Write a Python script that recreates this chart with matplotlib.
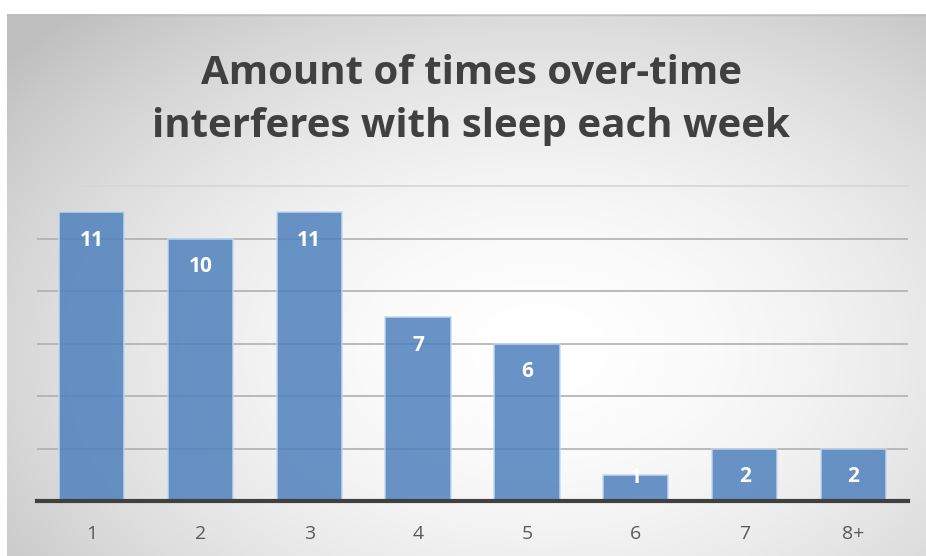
import numpy as np
import matplotlib.pyplot as plt

categories = ['1', '2', '3', '4', '5', '6', '7', '8+']
counts = [11, 10, 11, 7, 6, 1, 2, 2]
title = 'Amount of times over-time\ninterferes with sleep each week'

W, H = 926, 556
fig = plt.figure(figsize=(W / 100, H / 100), dpi=100)
fig.patch.set_facecolor('white')

# radial grey-to-white background of the chart area
bg = fig.add_axes([7 / W, 0, 1 - 7 / W, 1 - 14 / H], zorder=0)
gx, gy = np.meshgrid(np.linspace(0, 1, 400), np.linspace(0, 1, 300))
r = np.sqrt(((gx - 0.58) / 0.75) ** 2 + ((gy - 0.62) / 0.85) ** 2)
shade = 1.0 - 0.25 * np.clip(r, 0, 1) ** 1.8
bg.imshow(np.dstack([shade] * 3), extent=[0, 1, 0, 1], origin='upper',
          aspect='auto', interpolation='bilinear')
bg.set_axis_off()
fig.add_artist(plt.Line2D([7 / W, 1], [1 - 14.5 / H] * 2, color='#bdbdbd', lw=1))

# plot area
ax = fig.add_axes([37 / W, 1 - 501 / H, (908 - 37) / W, (501 - 186) / H], zorder=1)
ax.patch.set_alpha(0)
x = np.arange(len(categories))
ax.set_xlim(-0.5, len(categories) - 0.5)
ax.set_ylim(0, 12)

for yv in [2, 4, 6, 8, 10]:
    ax.axhline(yv, color='#b0b0b0', lw=1.2, zorder=1)
ax.axhline(12, color='#d6d6d6', lw=1.2, zorder=1, clip_on=False)

ax.bar(x, counts, width=0.6, color='#4f81bd', alpha=0.85,
       edgecolor='#c6d9f0', linewidth=1.2, zorder=2)

for xi, v in zip(x, counts):
    ax.text(xi, max(v - 1.07, 0.88), str(v), ha='center', va='center',
            color='white', fontsize=15, fontweight='bold',
            family='Open Sans', zorder=3)

ax.axhline(0, color='#404040', lw=3, zorder=4, clip_on=False)

ax.set_xticks(x)
ax.set_xticklabels(categories, fontsize=14, color='#595959', family='Open Sans')
ax.tick_params(axis='x', length=0, pad=17)
ax.set_yticks([])
for s in ax.spines.values():
    s.set_visible(False)

fig.text(0.5 + 8 / W, 1 - 100 / H, title, ha='center', va='center',
         fontsize=29, fontweight='bold', color='#404040',
         family='Open Sans', linespacing=1.5)

fig.savefig('out.png', dpi=100)
